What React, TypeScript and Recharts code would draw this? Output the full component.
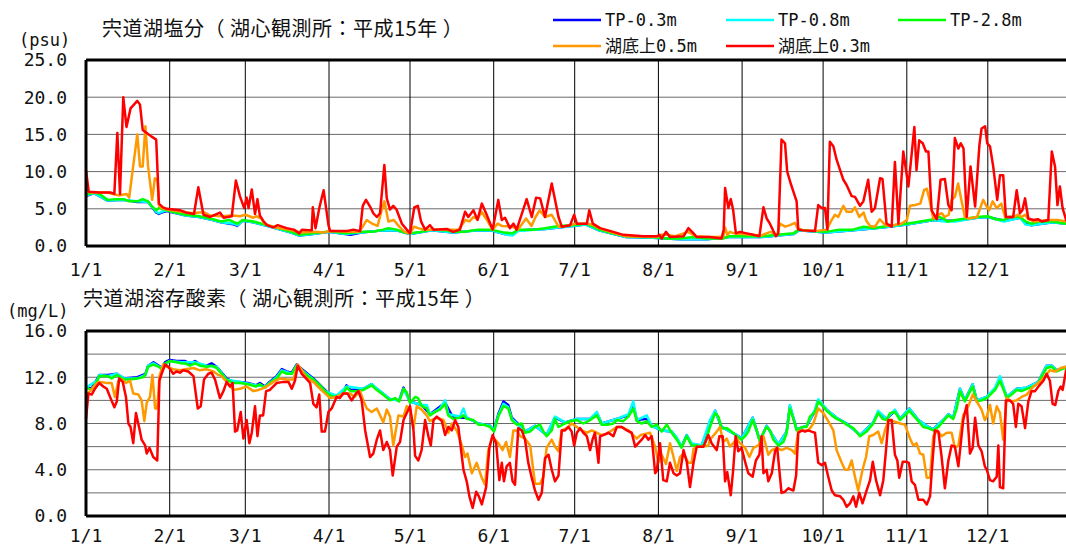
import React from 'react';
import { LineChart, Line, XAxis, YAxis, CartesianGrid, ReferenceLine } from 'recharts';

type P = [number, number];

const MONTH_TICKS = [0, 31, 59, 90, 120, 151, 181, 212, 243, 273, 304, 334];
const MONTH_LABELS = ['1/1', '2/1', '3/1', '4/1', '5/1', '6/1', '7/1', '8/1', '9/1', '10/1', '11/1', '12/1'];
const SAL_TICKS = [0, 5, 10, 15, 20, 25];
const DO_TICKS = [0, 2, 4, 6, 8, 10, 12, 14, 16];
const DO_LABEL_TICKS = [0, 4, 8, 12, 16];

const SERIES_NAMES = ['TP-0.3m', 'TP-0.8m', 'TP-2.8m', '湖底上0.5m', '湖底上0.3m'];
const SERIES_COLORS = ['#0000ff', '#00ffff', '#00ff00', '#ff9900', '#ff0000'];

const TITLE_SAL = '宍道湖塩分（ 湖心観測所：平成15年 ）';
const TITLE_DO = '宍道湖溶存酸素（ 湖心観測所：平成15年 ）';
const UNIT_SAL = '(psu)';
const UNIT_DO = '(mg/L)';

// ---------- Salinity (psu) ----------
const SAL_BLUE: P[] = [[0,6.7],[3,7.1],[8,6.1],[14,6.2],[19,5.9],[23,5.9],[26,4.5],[27,4.3],[28,4.5],[30,4.7],[37,4.1],[42,3.9],[47,3.5],[50,3.2],[55,2.9],[56,2.7],[58,3.4],[62,3.2],[67,2.7],[71,2.3],[76,1.8],[79,1.4],[84,1.6],[90,1.9],[96,1.6],[98,1.5],[102,1.8],[110,2.1],[115,2.1],[120,1.6],[128,2.1],[136,1.8],[145,2.1],[150,2.1],[155,1.6],[158,1.5],[160,2.1],[170,2.3],[180,2.7],[185,2.9],[190,2.1],[200,1.2],[210,1.1],[220,0.9],[230,0.9],[238,1.2],[250,1.2],[262,1.6],[264,2.1],[274,1.8],[284,2.1],[295,2.5],[304,2.9],[314,3.5],[318,3.4],[322,3.4],[330,3.8],[334,3.9],[340,3.4],[346,3.8],[348,3.0],[350,2.8],[358,3.2],[365,2.9]];
const SAL_CYAN: P[] = [[0,6.8],[3,7.1],[8,6.1],[14,6.2],[19,6.0],[23,5.9],[26,4.6],[27,4.4],[28,4.6],[30,4.8],[37,4.1],[42,3.9],[47,3.5],[50,3.2],[55,3.0],[56,2.8],[58,3.4],[62,3.2],[67,2.7],[71,2.3],[76,1.8],[79,1.4],[84,1.6],[90,1.9],[96,1.6],[102,1.8],[110,2.1],[115,2.1],[120,1.6],[128,2.1],[136,1.8],[145,2.1],[150,2.1],[155,1.6],[158,1.4],[160,2.0],[170,2.3],[180,2.7],[185,2.9],[190,2.1],[200,1.2],[210,1.1],[220,0.9],[230,0.9],[238,1.2],[250,1.2],[262,1.6],[264,2.1],[274,1.8],[284,2.1],[295,2.5],[304,2.9],[314,3.5],[318,3.3],[322,3.3],[330,3.8],[334,3.9],[340,3.3],[346,3.8],[348,2.9],[350,2.8],[358,3.2],[365,2.9]];
const SAL_GREEN: P[] = [[0,6.9],[3,7.2],[5,7.0],[8,6.2],[11,6.3],[14,6.3],[16,6.0],[19,6.0],[21,6.3],[23,6.0],[24,5.5],[26,4.8],[27,5.1],[30,4.8],[32,4.6],[37,4.2],[42,4.0],[47,3.6],[50,3.3],[53,3.5],[56,3.0],[58,3.5],[62,3.3],[67,2.8],[71,2.4],[76,1.9],[79,1.5],[84,1.7],[87,1.8],[90,2.0],[96,1.7],[102,1.9],[106,1.9],[110,2.2],[112,2.4],[115,2.2],[118,1.8],[120,1.7],[124,1.9],[128,2.2],[133,2.1],[136,1.9],[140,1.9],[145,2.2],[150,2.2],[155,1.8],[158,1.7],[160,2.2],[166,2.2],[170,2.4],[175,2.7],[180,2.8],[185,3.0],[188,2.6],[190,2.2],[195,1.7],[200,1.3],[205,1.2],[210,1.2],[215,1.0],[220,1.0],[225,1.2],[230,1.0],[236,1.0],[238,1.3],[242,1.3],[250,1.3],[256,1.5],[262,1.7],[264,2.2],[269,2.0],[274,1.9],[279,2.2],[284,2.2],[288,2.6],[292,2.4],[295,2.6],[299,2.8],[304,3.0],[309,3.3],[314,3.6],[316,3.9],[318,3.6],[319,3.3],[322,3.5],[326,3.7],[330,3.9],[334,4.0],[337,3.6],[340,3.5],[342,3.9],[346,3.9],[348,3.3],[350,3.0],[353,3.3],[358,3.3],[363,3.0],[365,3.0]];
const SAL_ORANGE: P[] = [[0,7.4],[2,7.2],[8,7.2],[10,7.0],[12,6.8],[15,7.0],[16,6.5],[17,9.4],[19,15.0],[20,10.7],[21,10.7],[22,16.1],[23,10.7],[24.5,6.2],[25.5,9.1],[26.5,8.9],[27,5.5],[28,5.1],[30,4.9],[34,4.7],[37,4.5],[40,4.4],[42,4.5],[44,4.5],[46,4.1],[50,4.0],[54,4.1],[57,4.0],[59,4.2],[62,3.8],[63,4.0],[65,3.7],[66,3.0],[70,2.5],[75,2.2],[80,1.8],[85,1.9],[88,1.8],[90,2.0],[98,1.9],[101,1.9],[102.5,2.6],[104,3.5],[106,3.0],[108,2.7],[109.5,4.8],[110.5,6.0],[112,3.3],[114,3.5],[116,2.6],[118,1.9],[120,1.7],[121.5,2.6],[123,2.4],[125,2.2],[138,2.2],[140.5,3.5],[142,3.3],[143.5,3.9],[145,3.6],[146.5,4.6],[148.5,3.5],[150.5,2.2],[152.5,3.0],[154,2.7],[158,2.6],[160,2.2],[163,3.7],[165,2.7],[166.5,3.9],[168,4.8],[170,3.9],[172.5,4.2],[175,2.6],[178,2.7],[181,3.0],[186,3.0],[188,2.8],[190,2.4],[195,1.8],[200,1.3],[211,1.2],[213,1.5],[215,1.5],[218,1.3],[223,1.9],[226,1.3],[231,1.2],[236,1.2],[236.7,2.5],[237.5,1.5],[238.5,1.9],[240,1.7],[250,1.4],[252,1.7],[253.5,1.9],[256,1.5],[257,3.0],[259,2.6],[260.7,2.8],[262.6,3.1],[263.5,2.4],[265.7,2.1],[270,2.0],[274.3,2.2],[276.2,3.5],[277.4,4.2],[278.6,3.9],[280.5,5.4],[281.7,4.6],[283.6,4.6],[284.8,5.2],[286.4,3.9],[288,4.5],[289,3.4],[290.4,2.7],[292.2,2.6],[294,3.6],[296,2.8],[298.4,2.7],[300.2,2.9],[302,3.0],[304,3.5],[305.2,5.4],[307,5.5],[309,5.7],[310.4,7.5],[311.4,7.7],[312.3,6.4],[313.8,3.7],[315.7,4.2],[317,4.4],[318,3.9],[319.5,4.2],[320.6,6.2],[321.8,6.6],[323,8.4],[324.3,6.0],[325.5,3.9],[327,3.7],[330,3.9],[332.3,6.2],[333.6,5.3],[334.5,4.8],[335.8,6.0],[337.3,5.1],[339,5.7],[340.4,3.9],[343.4,3.9],[345.3,4.2],[346.5,3.9],[347.8,4.2],[349,3.6],[351,3.3],[357,3.5],[360,3.5],[363,3.3],[365,3.3]];
const SAL_RED: P[] = [[0,10.2],[1,7.3],[5,7.2],[9,7.2],[10.5,7.0],[11.6,15.2],[12.6,7.0],[13.8,20.0],[15,16.0],[16.5,18.5],[19,19.5],[20,19.0],[21,15.6],[22.5,15.2],[24.3,14.7],[26,14.3],[27,5.7],[28.5,5.2],[30,5.0],[35,4.8],[37,4.5],[40,4.3],[41.6,7.9],[43.5,4.2],[46,3.9],[49.6,4.5],[51,3.8],[54,4.0],[55.5,8.8],[57,6.7],[58.6,5.1],[59.5,6.5],[60.2,5.1],[61.4,7.6],[62.6,4.3],[63.5,6.3],[64.4,4.1],[65.6,3.4],[67,2.8],[69.4,2.5],[71,2.8],[74.3,2.4],[77,2.2],[79,1.7],[80,2.2],[83.6,2.1],[84,5.2],[85,2.4],[86.4,5.1],[88,7.5],[89.8,2.8],[90.4,2.0],[96.5,2.0],[99,2.2],[101.5,2.0],[102.5,5.4],[103.7,6.2],[105.2,5.3],[106.4,4.4],[107.7,3.9],[108.9,4.4],[110.5,10.9],[111.4,6.4],[112.6,4.9],[113.8,5.4],[115,4.9],[117,3.0],[118.8,2.2],[120,1.7],[121.6,5.2],[122.9,5.4],[124.1,3.3],[125.6,2.2],[127.4,2.8],[128.7,2.2],[133.6,2.3],[136,1.9],[138.5,2.2],[140.4,4.6],[141.6,3.9],[143.5,4.8],[145,3.5],[146.6,5.7],[148.4,4.2],[150.6,2.2],[152.7,6.2],[154,3.5],[155.2,3.8],[157,2.4],[158.3,3.0],[159.5,2.2],[163.2,6.3],[165.1,3.9],[166.7,6.5],[168.2,6.4],[170,3.9],[172.5,8.4],[175,3.9],[176.2,2.6],[179.3,2.8],[180.8,4.2],[181.8,3.0],[185.5,3.0],[186.4,4.8],[187.7,3.0],[190.4,2.4],[195.3,1.9],[199,1.5],[206.4,1.3],[211.4,1.3],[212.4,1.5],[213.2,1.0],[214.8,1.9],[216.3,1.2],[221.3,1.3],[223.1,2.4],[225,1.7],[226.2,1.2],[231,1.2],[235.4,1.0],[236.2,2.2],[236.7,7.8],[237.9,5.1],[238.8,6.3],[239.7,4.8],[240.7,1.7],[242.2,1.9],[244.7,1.7],[247.2,1.5],[249.4,1.3],[250.9,5.2],[252.1,3.7],[253.3,3.0],[255.5,1.3],[256.4,1.7],[257.6,14.3],[258.9,13.8],[259.7,10.0],[261,8.4],[262,7.3],[263.2,6.0],[263.8,2.2],[265.7,2.1],[270,2.0],[271.2,5.5],[272.5,5.1],[273.7,5.1],[274.6,2.2],[275.5,14.0],[276.8,13.4],[278,11.6],[279.3,10.2],[280.5,8.9],[281.7,8.2],[283.6,6.7],[284.8,6.6],[286.7,5.4],[287.9,6.0],[289.7,8.9],[291,4.6],[292.2,5.1],[294.1,9.1],[295,9.0],[296.5,3.0],[298.4,2.6],[299.6,11.3],[300.9,3.0],[302.7,12.7],[304.6,8.0],[306.8,16.0],[307.6,10.2],[308.6,14.2],[309.9,13.8],[311.1,12.7],[312,12.7],[313.2,4.8],[315.1,3.6],[316.5,8.9],[318.1,9.0],[319.4,5.5],[320.6,4.8],[321.8,14.5],[323.1,13.1],[324,13.8],[325,13.1],[326.2,3.9],[327.6,10.7],[329.3,5.3],[330.9,13.6],[331.7,15.8],[333,16.1],[333.8,13.8],[334.8,13.4],[336,10.7],[337.5,6.2],[338.5,9.5],[339.7,9.5],[340.7,3.9],[343.4,3.9],[344.7,7.5],[345.9,4.4],[346.8,4.8],[347.8,6.4],[349,3.7],[350.9,3.5],[352.5,3.6],[354,3.3],[356.4,3.5],[357.7,12.7],[358.9,10.7],[359.8,5.5],[360.7,8.0],[361.7,5.1],[363,3.5],[365,3.0]];

// ---------- Dissolved oxygen (mg/L) ----------
const DO_BLUE: P[] = [[0,11.2],[2,11.0],[4,11.8],[5,12.2],[8,12.2],[11.4,12.3],[14,11.9],[19,12.0],[22,12.3],[23,13.0],[25,13.3],[27,13.0],[28,12.8],[29.3,13.3],[31,13.5],[33.6,13.4],[36.7,13.4],[38.5,13.2],[40.4,13.4],[42.2,13.1],[44.7,13.0],[46.5,13.2],[48.4,12.9],[50.2,12.4],[52,11.9],[54.6,11.6],[57,11.6],[60,11.5],[63,11.3],[64.4,11.5],[66.3,11.2],[68,11.6],[70.6,12.1],[72.5,12.7],[74.3,12.5],[76.2,12.4],[78,13.1],[80,12.7],[84.2,11.9],[88.5,10.9],[90.4,10.5],[92.8,10.4],[95.3,10.7],[96.5,11.3],[98,10.9],[102.7,11.0],[105.8,11.4],[107.7,11.0],[112.6,10.1],[116,10.0],[117.6,11.1],[120,9.9],[124.3,9.6],[127.4,8.8],[133,9.8],[136,8.5],[141,8.5],[145.3,8.0],[149.7,7.8],[151.1,7.4],[152.7,8.8],[154.6,9.9],[156.4,9.6],[157.7,8.5],[159.5,8.1],[162.6,7.3],[166.3,7.8],[170.6,7.0],[173.7,8.5],[177.4,8.1],[181.8,8.4],[186.7,8.4],[189.2,8.9],[191,8.0],[196.6,8.4],[200.9,8.7],[202.7,9.6],[204,8.3],[207.7,8.4],[209.5,7.8],[213.2,7.4],[216.9,7.3],[218.8,6.7],[220.6,6.0],[222.5,7.0],[224.3,6.2],[228,6.1],[231.1,7.9],[233,9.1],[235.4,7.7],[241,7.0],[242.8,6.7],[246.9,8.5],[249.6,6.5],[252.1,7.8],[256.4,6.2],[259.5,7.3],[260.7,9.5],[263.2,7.5],[266.9,7.8],[270,9.1],[271.2,10.0],[274.3,9.2],[278,8.5],[281.7,8.0],[286.7,7.0],[291.6,8.1],[293.4,9.0],[296.5,8.4],[299.6,9.1],[301.5,8.4],[304.9,9.3],[308.3,8.3],[312,7.7],[313.8,7.5],[317.5,8.3],[319.4,8.8],[321.2,8.5],[323.7,11.0],[325.5,10.0],[328.4,11.4],[329.9,10.0],[333.6,10.3],[336.7,11.0],[338.5,11.9],[341,10.3],[344.7,11.0],[348.4,11.1],[352.7,11.6],[355.8,13.0],[357.7,13.0],[359.5,12.6],[363,12.9],[365,13.0]];
const DO_CYAN: P[] = [[0,11.1],[4,11.7],[5,12.2],[8,12.1],[11.4,12.3],[14,11.9],[19,11.9],[22,12.2],[23,13.0],[25,13.2],[28,12.8],[31,13.4],[35.4,13.3],[40.4,13.3],[44.7,13.0],[48.4,12.9],[52,11.8],[57,11.6],[63,11.3],[66.3,11.2],[70.6,12.0],[72.5,12.6],[76.2,12.3],[78,13.0],[84.2,11.8],[88.5,10.8],[92.8,10.4],[96.5,11.2],[102.7,11.0],[105.8,11.4],[110,10.6],[112.6,10.1],[116,10.0],[117.6,11.0],[120,9.9],[124.3,9.6],[126.2,9.6],[127.4,8.8],[131.1,9.3],[133,10.0],[134.2,8.8],[138.5,8.6],[139.8,9.3],[141,8.5],[145.3,8.0],[149.7,7.8],[151.1,7.4],[152.7,8.7],[154.6,9.7],[156.4,9.4],[157.7,8.4],[159.5,8.0],[162.6,7.3],[166.3,7.8],[170.6,7.0],[173.7,8.6],[177.4,8.1],[181.8,8.4],[186.7,8.4],[189.2,9.0],[191,8.0],[196.6,8.4],[200.9,8.8],[202.7,9.9],[204,8.3],[207.7,8.7],[209.5,7.8],[213.2,7.4],[216.9,7.3],[218.8,6.8],[220.6,6.0],[222.5,7.0],[224.3,6.3],[228,6.1],[231.1,8.3],[233,9.1],[235.4,7.7],[241,7.0],[242.8,6.7],[246.9,8.5],[249.6,6.5],[252.1,7.8],[256.4,6.2],[259.5,7.3],[260.7,9.6],[263.2,7.5],[266.9,7.8],[270,9.2],[271.2,10.1],[274.3,9.2],[278,8.5],[281.7,8.0],[286.7,7.0],[291.6,8.1],[293.4,9.1],[296.5,8.4],[299.6,9.2],[301.5,8.4],[304.9,9.3],[308.3,8.3],[312,7.7],[313.8,7.5],[317.5,8.3],[319.4,8.8],[321.2,8.5],[323.7,11.0],[325.5,10.0],[328.4,11.4],[329.9,10.0],[333.6,10.3],[336.7,11.1],[338.5,12.1],[341,10.3],[344.7,11.0],[348.4,11.1],[352.7,11.6],[355.8,13.0],[357.7,13.0],[359.5,12.6],[363,12.9],[365,13.0]];
const DO_GREEN: P[] = [[0,11.1],[2,10.9],[4,11.6],[5,12.1],[8,12.1],[9.5,11.9],[11.4,12.2],[14,11.8],[16,11.8],[19,11.9],[21,12.0],[22,12.2],[23,12.9],[25,13.1],[27,12.9],[28,12.7],[29.3,13.2],[31,13.4],[33.6,13.3],[35.4,13.2],[36.7,13.2],[38.5,13.0],[40.4,13.2],[42.2,13.0],[44.7,12.9],[46.5,13.0],[48.4,12.8],[50.2,12.3],[52,11.8],[54.6,11.5],[57,11.5],[60,11.4],[63,11.2],[64.4,11.4],[66.3,11.1],[68,11.5],[70.6,11.9],[72.5,12.5],[74.3,12.3],[76.2,12.3],[78,13.0],[80,12.6],[81.7,12.2],[84.2,11.8],[86.7,11.3],[88.5,10.8],[90.4,10.4],[92.8,10.3],[95.3,10.6],[96.5,11.1],[98,10.8],[100.3,10.8],[102.7,10.9],[105.8,11.3],[107.7,10.9],[110,10.5],[112.6,10.0],[114.5,10.2],[116,9.9],[117.6,11.0],[118.8,10.7],[120,9.8],[122,10.3],[123,10.2],[124.3,9.5],[126.2,9.3],[127.4,8.7],[129.3,9.0],[131.1,9.2],[133,9.7],[134.2,8.7],[136,8.4],[138.5,8.5],[139.8,8.7],[141,8.4],[143.5,8.3],[145.3,7.9],[147.2,7.9],[149.7,7.7],[151.1,7.3],[152.7,8.6],[154.6,9.5],[156.4,9.3],[157.7,8.3],[159.5,7.9],[161.4,8.0],[162.6,7.2],[164.5,7.3],[166.3,7.7],[168.2,7.9],[169.4,7.3],[170.6,6.9],[172.5,7.4],[173.7,8.4],[175,7.7],[177.4,8.0],[179.3,8.2],[181.8,8.3],[184.2,8.0],[186.7,8.3],[189.2,8.7],[191,7.9],[193.5,7.9],[195.3,8.0],[196.6,8.3],[199,8.2],[200.9,8.6],[202.7,9.3],[204,8.2],[205.8,8.0],[207.7,8.2],[209.5,7.7],[211.4,7.9],[213.2,7.3],[215.1,7.9],[216.9,7.2],[218.8,6.6],[220.6,5.9],[222.5,6.9],[224.3,6.1],[226,6.1],[228,6.0],[229.3,6.3],[231.1,7.7],[233,8.9],[234.2,8.6],[235.4,7.6],[237.3,7.6],[239.1,7.3],[241,6.9],[242.8,6.6],[244.1,6.9],[245.3,7.3],[246.9,8.3],[248.4,7.4],[249.6,6.4],[250.9,7.2],[252.1,7.7],[253.3,7.4],[254.6,6.6],[256.4,6.1],[258.3,6.4],[259.5,7.2],[260.7,9.3],[262,8.4],[263.2,7.4],[265.1,7.7],[266.9,7.7],[268.1,8.6],[270,9.0],[271.2,9.9],[272.5,9.6],[274.3,9.1],[276.2,8.7],[278,8.4],[279.9,8.2],[281.7,7.9],[284.2,7.6],[286.7,6.9],[289.1,7.3],[291.6,8.0],[293.4,8.9],[295,8.4],[296.5,8.3],[297.8,8.9],[299.6,9.0],[301.5,8.3],[303.3,8.7],[304.9,9.1],[306.4,8.7],[308.3,8.2],[310.1,7.7],[312,7.6],[313.8,7.4],[315.7,7.7],[317.5,8.2],[319.4,8.7],[321.2,8.4],[322.5,9.3],[323.7,10.8],[325.5,9.9],[326.8,10.5],[328.4,11.2],[329.9,9.9],[331.7,10.0],[333.6,10.2],[335.4,10.6],[336.7,10.9],[338.5,11.7],[339.7,11.0],[341,10.2],[342.8,10.5],[344.7,10.9],[346.5,10.8],[348.4,11.0],[350.9,11.2],[352.7,11.5],[354,12.1],[355.8,12.8],[357.7,12.9],[359.5,12.5],[361.4,12.7],[363,12.8],[365,12.9]];
const DO_ORANGE: P[] = [[0,10.5],[1.5,10.8],[4,11.5],[5.2,11.6],[7.7,11.5],[9.5,11.5],[10.7,10.3],[12,11.7],[13.2,11.8],[14.8,11.5],[16.3,11.7],[17.5,10.6],[19.4,10.5],[20.6,10.0],[21.6,8.2],[22.5,9.8],[23.7,10.3],[24.6,12.2],[25.6,9.3],[26.4,9.3],[27.2,12.1],[28.6,13.1],[30,12.9],[32.3,12.7],[34.8,12.6],[37,12.7],[39.8,12.8],[42.2,12.6],[44.5,12.7],[47.2,12.5],[49,12.2],[50.2,12.1],[52.1,11.6],[54.6,10.9],[57,11.0],[59.5,11.2],[62,10.8],[63.8,10.9],[65,11.0],[66.9,11.2],[69.4,11.6],[71.9,11.9],[74.3,11.8],[76.8,11.8],[78.4,13.1],[80,12.6],[81.7,11.9],[84.2,11.6],[86.7,11.0],[88.5,10.6],[90.4,10.2],[92.8,10.3],[95.3,10.6],[97.8,10.6],[99.5,10.3],[101.5,10.8],[102.7,10.0],[104,9.3],[105.8,9.0],[107.7,9.3],[110.1,8.1],[111.4,9.2],[112.6,8.6],[113.8,6.1],[115.7,8.7],[117.6,8.6],[118.8,9.5],[120,9.2],[121.3,7.6],[122.5,9.5],[124.3,9.2],[126.2,8.7],[127.4,8.2],[129.9,8.5],[132.4,8.3],[134.2,7.2],[135.5,8.0],[137.3,7.4],[139.2,6.1],[140.4,5.1],[141.3,5.4],[142.9,3.7],[144.7,4.6],[146.6,3.3],[147.8,2.7],[149,5.7],[150.3,6.7],[151.5,6.6],[152.7,6.3],[154.3,5.7],[155.6,6.4],[157,5.1],[158.3,7.4],[159.5,7.4],[160.8,6.9],[162.6,6.7],[164.5,6.1],[166.3,2.8],[168.2,2.8],[169.4,3.4],[170.6,5.9],[172.5,6.6],[173.7,6.0],[175,5.6],[176.2,7.4],[178,7.6],[179.9,8.0],[181.8,7.7],[183.6,7.4],[185.5,7.2],[187.3,7.4],[189.2,7.2],[191,7.0],[192.8,7.1],[194.7,7.4],[196.6,7.7],[198.4,7.7],[200.9,7.4],[202.7,7.0],[204,6.7],[205.4,7.0],[207.1,7.1],[208.9,7.2],[210.8,6.0],[212,4.6],[213.2,5.3],[214.8,4.5],[216.3,6.3],[217.6,5.1],[218.8,3.9],[220,5.1],[221.3,5.4],[223.1,4.6],[224.3,4.6],[225,5.8],[226.8,6.0],[228.7,6.0],[230.5,6.1],[231.1,6.6],[233.6,7.3],[234.8,7.7],[236,6.4],[237.3,6.7],[238.5,6.0],[239.7,6.3],[241,6.7],[242.2,6.3],[244.1,5.9],[245.7,5.1],[247.2,5.9],[249,6.1],[250.9,6.9],[252.7,5.3],[254,5.7],[255.8,5.9],[257.6,5.7],[259.5,5.9],[261.4,5.7],[262.6,5.4],[263.8,7.3],[265.7,7.4],[267.5,7.4],[269.4,8.0],[271.2,9.3],[273.1,8.9],[274.9,8.2],[276.8,7.4],[278,5.7],[279.9,4.6],[281.1,4.0],[282.3,4.0],[283.6,4.8],[284.8,3.4],[286,2.2],[287.6,4.0],[288.9,5.1],[290.1,6.9],[291.6,7.0],[293.4,7.3],[294.7,6.3],[295.9,7.4],[297.2,8.3],[299,8.2],[301.5,8.0],[303.3,7.9],[305.2,6.7],[306.4,6.1],[307.6,6.3],[308.9,5.4],[310.1,5.3],[311.4,3.3],[312.6,3.3],[313.8,6.9],[315.3,7.4],[316.9,6.9],[318.8,7.2],[320.6,7.2],[321.8,5.9],[323.1,6.1],[324.9,8.7],[326.8,9.5],[328.4,10.5],[329.9,9.9],[331.7,9.2],[332.9,8.3],[333.6,8.6],[334.8,9.6],[336,8.0],[337.3,9.5],[338.5,8.9],[339.7,6.6],[341,10.2],[342.8,9.9],[344.7,10.0],[346.5,10.3],[348.4,10.5],[350.9,11.2],[353.3,11.6],[355.2,12.1],[357,12.6],[358.9,12.5],[361,12.8],[363,12.9],[365,12.9]];
const DO_RED: P[] = [[0,8.4],[0.9,10.6],[2.1,10.5],[3.3,11.0],[4.9,11.5],[6.4,11.2],[7.7,11.0],[8.9,10.3],[10.5,9.4],[11.4,9.9],[12.3,11.9],[13.6,11.6],[14.8,10.3],[15.7,8.0],[16.5,7.7],[17.5,6.3],[18.5,8.9],[20,7.3],[20.6,6.6],[21.9,6.1],[22.5,5.4],[23.5,5.9],[24.9,5.1],[26.4,4.8],[27.2,11.7],[28,12.3],[29.3,13.1],[30.5,12.9],[32.3,12.3],[33.5,12.5],[34.8,12.4],[36,12.6],[37.9,12.5],[39.8,12.1],[41.4,9.3],[42.5,9.5],[43.7,11.8],[45.3,12.3],[46.5,12.4],[47.8,11.8],[49.6,10.2],[50.9,10.8],[52.1,11.6],[53.3,11.2],[54.3,11.5],[55.2,7.3],[56,7.4],[57.3,9.0],[58.3,6.7],[59.5,8.3],[60.5,6.3],[61.4,7.2],[62.6,9.5],[63.5,6.9],[64.4,8.7],[65.6,8.7],[66.7,10.8],[68.1,10.9],[70.6,11.5],[73.1,11.6],[75,11.6],[76.2,11.0],[77.4,11.7],[78.4,13.0],[79.9,12.3],[81.5,11.9],[83,11.5],[84.2,9.7],[85.4,9.4],[86.4,10.5],[87.3,7.3],[88.5,7.3],[89.8,9.0],[91,9.3],[92.8,10.3],[94,10.2],[95.3,10.6],[96.8,10.6],[98.4,10.0],[100,10.6],[100.9,10.8],[102.1,10.0],[103.4,7.4],[105.2,5.1],[106.4,5.4],[107.7,6.6],[108.9,7.4],[110.1,5.7],[111.4,6.4],[112.6,5.7],[113.6,3.5],[115.1,6.0],[116.3,6.4],[117.6,8.3],[118.8,8.9],[120,9.5],[121.3,7.4],[121.9,5.2],[123.1,4.8],[124.3,5.7],[125.6,8.3],[126.8,6.9],[127.7,6.1],[128.7,8.3],[129.9,8.6],[131.8,8.2],[133,7.0],[134.2,7.7],[135.5,7.4],[136.7,8.3],[137.9,7.7],[139.8,4.0],[141,3.0],[142,1.7],[143.2,0.7],[144.5,2.1],[145.5,1.7],[146.6,1.0],[148.2,2.5],[149.4,5.9],[150.6,7.0],[151.9,6.3],[153.1,3.1],[154,4.6],[154.8,3.0],[155.8,4.3],[157,4.6],[158,3.0],[158.9,2.7],[160.1,7.6],[161.4,7.4],[162.6,6.6],[163.8,4.6],[165.1,3.3],[166.3,2.2],[167.6,1.4],[168.8,2.0],[170,5.0],[171.3,5.3],[172.5,4.0],[173.7,3.0],[175,3.5],[176.2,7.4],[177.4,7.4],[178.7,7.7],[179.9,7.3],[180.8,6.1],[181.8,7.2],[183,7.6],[184.2,7.2],[185.5,6.9],[186.7,5.7],[187.6,6.6],[188.5,7.2],[189.8,4.6],[190.4,6.9],[191.6,7.0],[193.5,7.2],[195.3,6.9],[196.6,7.7],[198.4,7.7],[200.3,7.4],[202.1,7.2],[203.4,6.0],[204.6,6.3],[205.8,6.6],[207.1,7.0],[208.3,6.6],[209.5,6.9],[210.8,3.7],[211.4,3.9],[212.6,6.3],[213.8,3.1],[215.1,3.0],[216.3,4.6],[217.6,3.7],[218.8,3.5],[220,3.7],[221.3,5.7],[222.5,4.7],[223.7,2.5],[225,4.6],[226.2,6.0],[228.7,6.0],[230.5,7.0],[231.7,6.3],[233.6,5.7],[234.6,6.9],[235.8,6.9],[236.7,3.0],[237.5,3.8],[238.8,1.8],[239.7,4.0],[240.6,6.9],[241.6,5.6],[242.8,5.9],[244.1,4.7],[245.3,3.7],[246.9,3.4],[248.1,4.8],[249.4,5.3],[250.2,6.9],[250.9,3.7],[252.1,4.0],[252.7,3.0],[254,3.7],[255.2,5.6],[256,5.9],[257.6,2.0],[258.9,2.1],[260.1,2.4],[262,2.2],[263,3.5],[263.8,7.2],[265.1,7.4],[266.3,7.3],[267.5,7.4],[268.7,7.3],[270,7.2],[271.2,4.6],[272.5,4.4],[273.7,4.6],[274.9,3.4],[276.2,2.2],[277.4,1.8],[279.3,1.7],[280.5,1.4],[281.7,0.8],[283,1.1],[284.2,1.7],[285.2,0.8],[286.4,2.0],[287.6,1.1],[289.1,2.2],[290.4,3.1],[291.4,4.7],[292.6,3.1],[294.1,1.8],[295.3,3.1],[296.3,5.7],[297.2,8.3],[298.4,8.3],[299.6,5.3],[300.5,4.8],[301.2,3.3],[302.5,4.7],[303.7,4.7],[304.8,4.6],[305.8,3.0],[307,2.7],[308.3,1.4],[310.1,1.4],[311.4,1.0],[312.6,1.7],[313.2,3.7],[314.4,7.4],[315.7,7.3],[316.9,5.1],[318.1,2.4],[319.4,4.8],[320.6,6.1],[321.8,6.0],[323.1,4.3],[324.9,8.3],[326.2,9.6],[327.4,5.4],[328.4,5.9],[329.3,8.5],[330.5,6.1],[331.7,5.6],[332.9,4.3],[333.6,4.0],[334.8,3.1],[336,3.0],[337.3,3.4],[337.9,6.1],[338.5,2.5],[339.7,2.4],[340.7,10.0],[342.2,10.0],[343.4,9.7],[344.4,7.7],[345.3,9.7],[346.5,9.5],[347.8,7.6],[349,9.9],[350.2,10.8],[351.5,10.8],[353.1,11.3],[354.6,11.7],[355.8,12.3],[357,11.7],[358,9.7],[359,9.6],[360.1,10.8],[361,11.2],[361.7,10.9],[363,12.6],[365,12.8]];

const SAL_SERIES: P[][] = [SAL_BLUE, SAL_CYAN, SAL_GREEN, SAL_ORANGE, SAL_RED];
const DO_SERIES: P[][] = [DO_BLUE, DO_CYAN, DO_GREEN, DO_ORANGE, DO_RED];

const MONO = "'DejaVu Sans Mono', 'Noto Sans CJK JP', monospace";
const CJK = "'Noto Sans CJK JP', 'Noto Sans', sans-serif";

const toPts = (arr: P[]) => arr.map(([day, v]) => ({ day, v }));
const monthLabel = (d: number) => {
  const i = MONTH_TICKS.indexOf(d);
  return i >= 0 ? MONTH_LABELS[i] : '';
};

type PanelProps = {
  top: number;
  height: number;
  marginTop: number;
  marginBottom: number;
  yMax: number;
  yTicks: number[];
  labelTicks: number[];
  series: P[][];
  xTickMargin: number;
};

function Panel({ top, height, marginTop, marginBottom, yMax, yTicks, labelTicks, series, xTickMargin }: PanelProps) {
  return (
    <div style={{ position: 'absolute', left: 0, top }}>
      <LineChart width={1080} height={height} margin={{ top: marginTop, right: 8.5, bottom: marginBottom, left: 26 }}>
        <CartesianGrid horizontal vertical={false} stroke="#6a6a6a" strokeWidth={1} />
        <CartesianGrid horizontal={false} vertical stroke="#000" strokeWidth={1} />
        <XAxis
          type="number"
          dataKey="day"
          domain={[0, 365]}
          ticks={MONTH_TICKS}
          interval={0}
          tickFormatter={monthLabel}
          height={30}
          axisLine={{ stroke: '#000', strokeWidth: 3 }}
          tickLine={false}
          tickSize={0}
          tickMargin={xTickMargin}
          tick={{ fill: '#111', fontSize: 18, fontFamily: MONO }}
        />
        <YAxis
          type="number"
          domain={[0, yMax]}
          ticks={yTicks}
          interval={0}
          width={60}
          tickFormatter={(v: number) => (labelTicks.includes(v) ? v.toFixed(1) : '')}
          axisLine={{ stroke: '#000', strokeWidth: 3 }}
          tickLine={false}
          tickSize={0}
          tickMargin={19}
          tick={{ fill: '#111', fontSize: 18, fontFamily: MONO }}
        />
        <ReferenceLine y={yMax} stroke="#000" strokeWidth={3} />
        {series.map((s, i) => (
          <Line
            key={SERIES_NAMES[i]}
            data={toPts(s)}
            dataKey="v"
            name={SERIES_NAMES[i]}
            type="linear"
            stroke={SERIES_COLORS[i]}
            strokeWidth={2.5}
            strokeLinejoin="round"
            dot={false}
            activeDot={false}
            isAnimationActive={false}
          />
        ))}
      </LineChart>
    </div>
  );
}

const LEGEND_POS: [number, number][] = [[553, 20], [726, 20], [898, 20], [553, 46], [726, 46]];

function Legend() {
  return (
    <>
      {SERIES_NAMES.map((name, i) => (
        <div
          key={name}
          style={{
            position: 'absolute',
            left: LEGEND_POS[i][0],
            top: LEGEND_POS[i][1] - 11,
            height: 22,
            display: 'flex',
            alignItems: 'center',
            whiteSpace: 'nowrap',
          }}
        >
          <svg width={50} height={22} style={{ display: 'block' }}>
            <line x1={0} y1={11} x2={48} y2={11} stroke={SERIES_COLORS[i]} strokeWidth={2.5} />
          </svg>
          <span style={{ fontFamily: MONO, fontSize: 17, color: '#111', marginLeft: 2, lineHeight: '22px' }}>{name}</span>
        </div>
      ))}
    </>
  );
}

const textStyle = (left: number, top: number, size: number, family: string, spacing = 0): React.CSSProperties => ({
  position: 'absolute',
  left,
  top,
  fontSize: size,
  lineHeight: `${size + 2}px`,
  fontFamily: family,
  color: '#111',
  whiteSpace: 'pre',
  letterSpacing: spacing,
});

export default function App() {
  return (
    <div
      style={{
        position: 'absolute',
        left: 0,
        top: 0,
        width: 1066,
        height: 550,
        overflow: 'hidden',
        background: '#fff',
      }}
    >
      <Panel
        top={0}
        height={286}
        marginTop={60}
        marginBottom={10}
        yMax={25}
        yTicks={SAL_TICKS}
        labelTicks={SAL_TICKS}
        series={SAL_SERIES}
        xTickMargin={17}
      />
      <Panel
        top={280}
        height={270}
        marginTop={51}
        marginBottom={4}
        yMax={16}
        yTicks={DO_TICKS}
        labelTicks={DO_LABEL_TICKS}
        series={DO_SERIES}
        xTickMargin={13}
      />
      <div style={textStyle(102, 17, 20, CJK, 0.5)}>{TITLE_SAL}</div>
      <div style={textStyle(19, 31, 17, MONO)}>{UNIT_SAL}</div>
      <div style={textStyle(83, 287, 20, CJK, 0.5)}>{TITLE_DO}</div>
      <div style={textStyle(7, 302, 17, MONO)}>{UNIT_DO}</div>
      <Legend />
    </div>
  );
}
